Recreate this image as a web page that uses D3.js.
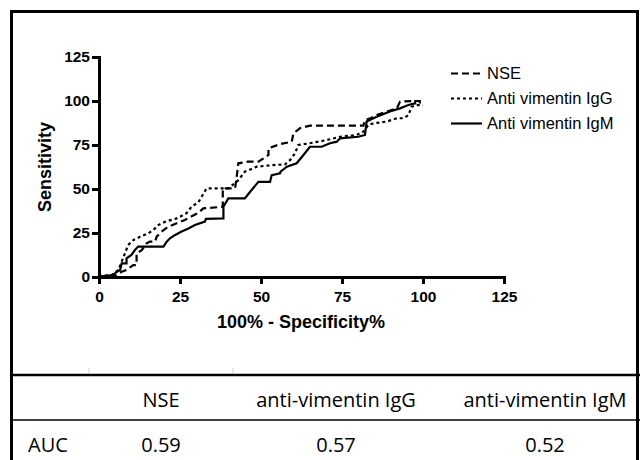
<!DOCTYPE html>
<html>
<head>
<meta charset="utf-8">
<script src="https://cdn.jsdelivr.net/npm/d3@7"></script>
<style>
  body { margin: 0; background: #fff; }
  .axis text { font-family: "Liberation Sans", Arial, sans-serif; font-weight: bold; font-size: 15.5px; fill: #000; }
  .axis path, .axis line { stroke: #000; stroke-width: 3; }
  .title { font-family: "Liberation Sans", Arial, sans-serif; font-weight: bold; font-size: 18px; }
  .legend text { font-family: "Liberation Sans", Arial, sans-serif; font-size: 16.5px; }
  .cell { font-family: "Open Sans", sans-serif; font-size: 20px; }
</style>
</head>
<body>
<div id="chart"></div>
<script>
const width = 640;
const height = 460;

// ROC points: [100% - specificity, sensitivity]
const nse = [[0,0],[5,0.6],[7,3],[8.5,4],[10.6,6.8],[11.6,6.8],[11.6,13.4],[13.2,15.3],[14.7,19.1],[15.7,20.1],[17.3,20.1],[17.8,22.9],[19.3,25.8],[21.4,28.6],[24,30.5],[26.5,32.4],[28.6,34.5],[30.7,36.5],[32.2,39],[38.2,39.9],[38.2,50.4],[42,50.4],[42.5,57],[43,64.6],[46,65.5],[49.2,65.5],[52.3,69.3],[52.3,73.1],[55.9,75.5],[59.5,76.9],[60,81.6],[62,84.5],[65.1,86],[81.6,86],[82.1,89.2],[83.7,90.1],[85.7,92],[88.8,94],[91.9,95.8],[92.9,99.6],[96.8,100],[99,100],[99,98.5]];
const igg = [[0,0.6],[3.9,1.1],[6,4],[7,8.7],[8,13.4],[9,18.2],[10.6,21],[12.7,22.9],[15.2,24.8],[16.8,26.7],[18.3,29.5],[20.4,31.4],[24,33.3],[27,36.2],[28.6,40],[30.7,42.5],[31.5,45],[33.2,50.4],[40,50.4],[43,55],[45,59.8],[48.7,62.7],[53.8,63.6],[57.4,64],[59,66.5],[60.5,70.3],[61.5,75],[65.1,76],[70.3,77.8],[74.4,79.7],[79.5,80.7],[81.6,82.6],[83.2,86.5],[84.7,87.3],[88.8,88.3],[91.9,90.2],[94,90.2],[95.5,92],[96.5,96.8],[98.1,97.7],[100,97.7]];
const igm = [[0,0.2],[4.4,1.1],[5.5,3],[6.5,4],[7,7.7],[8.5,7.7],[8.5,10.6],[10,12.5],[11.1,15.3],[12.1,17.3],[19.9,17.3],[20.9,20.1],[21.9,22],[23.5,23.9],[25.5,25.8],[27.6,27.6],[29.6,29.5],[32.7,31.5],[33,33],[38.4,33.3],[38.4,39.9],[39.9,44.7],[45,44.7],[47.1,49.4],[49.2,54.1],[52.8,54.1],[53.3,57.9],[55.9,58.9],[56,59.8],[58,62.7],[61,64.6],[63.1,69.3],[65.1,74],[68.7,74],[71.3,76],[73.4,76.9],[74.4,78.8],[80,79.7],[82.1,80.7],[82.6,88.3],[85.7,91.1],[89.8,94],[92.9,95.8],[95.5,97.7],[97.6,98.7],[97.6,100],[98.5,100]];

const seriesNames = ["NSE", "Anti vimentin IgG", "Anti vimentin IgM"];
const ticks = [0, 25, 50, 75, 100, 125];

const tableHeader = ["", "NSE", "anti-vimentin IgG", "anti-vimentin IgM"];
const aucRow = ["AUC", "0.59", "0.57", "0.52"];

const dashes = ["7,4", "3,3", null];

let svg = d3.select("#chart").append("svg")
  .attr("width", width)
  .attr("height", height);

// frame
svg.append("rect")
  .attr("x", 11.5).attr("y", 11.5)
  .attr("width", 626).attr("height", 470)
  .attr("fill", "none").attr("stroke", "#000").attr("stroke-width", 3);

const x = d3.scaleLinear().domain([0, 125]).range([99, 504]);
const y = d3.scaleLinear().domain([0, 125]).range([277, 57]);

svg.append("g").attr("class", "axis")
  .attr("transform", "translate(0,277)")
  .call(d3.axisBottom(x).tickValues(ticks).tickSize(7).tickSizeOuter(0).tickPadding(7));

svg.append("g").attr("class", "axis")
  .attr("transform", "translate(99,0)")
  .call(d3.axisLeft(y).tickValues(ticks).tickSize(7).tickSizeOuter(0).tickPadding(2));

svg.selectAll(".axis path").attr("stroke-linecap", "square");

svg.append("text").attr("class", "title")
  .attr("x", 301).attr("y", 328)
  .attr("text-anchor", "middle")
  .text("100% - Specificity%");

svg.append("text").attr("class", "title")
  .attr("transform", "translate(51,167) rotate(-90)")
  .attr("text-anchor", "middle")
  .text("Sensitivity");

const line = d3.line()
  .x(d => x(d[0]))
  .y(d => y(d[1]));

const allSeries = [nse, igg, igm];

svg.selectAll(".roc")
  .data(allSeries)
  .enter().append("path")
  .attr("class", "roc")
  .attr("d", line)
  .attr("fill", "none")
  .attr("stroke", "#000")
  .attr("stroke-width", 2.2)
  .attr("stroke-dasharray", (d, i) => dashes[i]);

// legend
const legend = svg.append("g").attr("class", "legend");
const legendY = d3.scalePoint().domain(seriesNames).range([73.5, 123.5]);

legend.selectAll("line")
  .data(seriesNames)
  .enter().append("line")
  .attr("x1", 451).attr("x2", 482)
  .attr("y1", d => legendY(d)).attr("y2", d => legendY(d))
  .attr("stroke", "#000")
  .attr("stroke-width", 2.2)
  .attr("stroke-dasharray", (d, i) => dashes[i]);

legend.selectAll("text")
  .data(seriesNames)
  .enter().append("text")
  .attr("x", 487)
  .attr("y", d => legendY(d))
  .attr("dy", "0.36em")
  .text(d => d);

// AUC table
svg.append("line")
  .attr("x1", 11.5).attr("x2", 640)
  .attr("y1", 375).attr("y2", 375)
  .attr("stroke", "#000").attr("stroke-width", 2.5);

svg.append("line")
  .attr("x1", 11.5).attr("x2", 640)
  .attr("y1", 420).attr("y2", 420)
  .attr("stroke", "#000").attr("stroke-width", 1.5);

svg.selectAll(".stub")
  .data([89, 233])
  .enter().append("line")
  .attr("class", "stub")
  .attr("x1", d => d).attr("x2", d => d)
  .attr("y1", 368).attr("y2", 374)
  .attr("stroke", "#ccc").attr("stroke-width", 1);

const colX = [28, 161, 336, 545];

svg.selectAll(".head")
  .data(tableHeader)
  .enter().append("text")
  .attr("class", "cell head")
  .attr("x", (d, i) => colX[i])
  .attr("y", 406.5)
  .attr("text-anchor", (d, i) => i === 0 ? "start" : "middle")
  .text(d => d);

svg.selectAll(".auc")
  .data(aucRow)
  .enter().append("text")
  .attr("class", "cell auc")
  .attr("x", (d, i) => colX[i])
  .attr("y", 452)
  .attr("text-anchor", (d, i) => i === 0 ? "start" : "middle")
  .text(d => d);
</script>
</body>
</html>
